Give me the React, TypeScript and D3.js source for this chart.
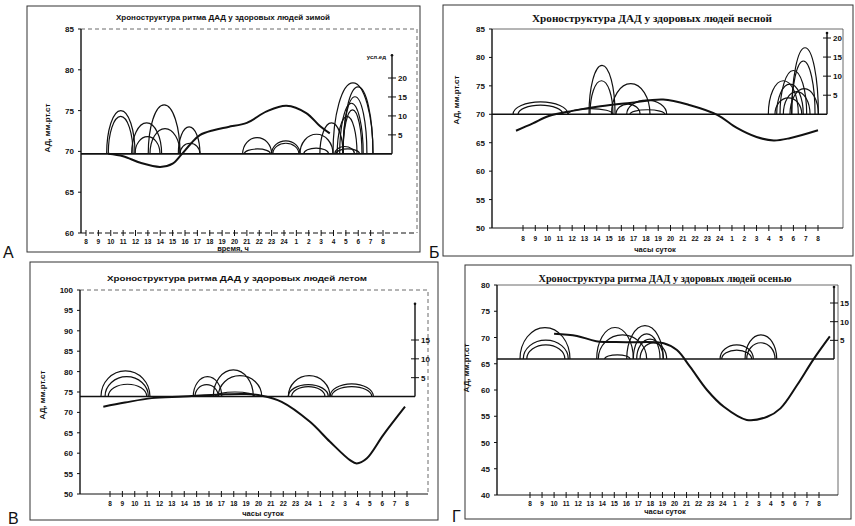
import React from "react";
import * as d3 from "d3";

// ---------- shared axis data ----------
const HOUR_TICKS = [8, 9, 10, 11, 12, 13, 14, 15, 16, 17, 18, 19, 20, 21, 22, 23, 24, 25, 26, 27, 28, 29, 30, 31, 32];
const HOUR_LABELS = ["8", "9", "10", "11", "12", "13", "14", "15", "16", "17", "18", "19", "20", "21", "22", "23", "24", "1", "2", "3", "4", "5", "6", "7", "8"];

// ---------- Panel А (зима) ----------
const A_TITLE = "Хроноструктура ритма ДАД у здоровых людей зимой";
const A_Y_TICKS = [60, 65, 70, 75, 80, 85];
const A_R_TICKS = [5, 10, 15, 20];
const A_BASE = 69.7;
const A_MEAN_H = [9.8, 11.0, 12.4, 14.0, 15.0, 15.7, 16.5, 17.2, 18.3, 19.5, 21.0, 22.6, 24.2, 25.8, 26.9, 27.7];
const A_MEAN_V = [69.7, 69.4, 68.6, 68.1, 68.5, 69.6, 71.0, 72.0, 72.6, 73.0, 73.5, 74.9, 75.6, 74.7, 73.1, 72.2];
const A_ARC_START = [9.67, 9.8, 11.69, 11.96, 13.03, 13.17, 15.46, 15.6, 20.66, 20.8, 23.0, 23.1, 25.29, 25.6, 26.9, 27.96, 28.77, 28.77, 28.5, 28.77, 28.3, 28.2, 28.1];
const A_ARC_END = [11.96, 11.8, 14.11, 13.98, 15.6, 15.6, 17.21, 17.21, 23.0, 22.9, 25.29, 25.2, 27.96, 27.6, 28.77, 31.19, 31.19, 30.7, 30.4, 30.3, 29.9, 30.1, 29.7];
const A_ARC_PEAK = [75.0, 74.3, 73.5, 71.8, 75.7, 72.8, 73.0, 71.0, 71.7, 70.3, 71.3, 71.0, 72.1, 70.4, 73.5, 78.4, 77.9, 76.7, 75.9, 75.1, 74.3, 70.3, 70.6];

// ---------- Panel Б (весна) ----------
const B_TITLE = "Хроноструктура ДАД у здоровых людей весной";
const B_Y_TICKS = [50, 55, 60, 65, 70, 75, 80, 85];
const B_R_TICKS = [5, 10, 15, 20];
const B_BASE = 70;
const B_MEAN_H = [7.43, 8.8, 10.1, 12.0, 14.3, 16.7, 19.4, 21.6, 23.8, 25.4, 27.0, 28.4, 29.7, 32.0];
const B_MEAN_V = [67.1, 68.4, 69.7, 70.6, 71.4, 72.0, 72.6, 71.6, 69.9, 67.6, 66.0, 65.4, 65.8, 67.2];
const B_ARC_START = [7.19, 7.6, 11.66, 13.37, 13.45, 15.2, 15.57, 16.44, 16.7, 29.86, 29.86, 28.91, 27.96, 28.64, 29.18, 28.5, 29.72];
const B_ARC_END = [11.66, 11.25, 15.32, 15.49, 15.32, 18.33, 17.52, 19.69, 19.55, 32.03, 31.76, 31.08, 30.4, 30.8, 31.35, 30.68, 32.03];
const B_ARC_PEAK = [72.2, 71.6, 71.0, 78.6, 75.9, 75.4, 71.8, 72.5, 70.8, 81.7, 79.4, 77.7, 75.9, 75.3, 74.0, 72.9, 74.5];

// ---------- Panel В (лето) ----------
const V_TITLE = "Хроноструктура ритма ДАД у здоровых людей летом";
const V_Y_TICKS = [50, 55, 60, 65, 70, 75, 80, 85, 90, 95, 100];
const V_R_TICKS = [5, 10, 15];
const V_BASE = 73.9;
const V_MEAN_H = [7.46, 9.2, 11.37, 13.9, 17.0, 19.0, 20.26, 21.87, 24.16, 25.78, 27.39, 27.94, 28.74, 30.09, 31.84];
const V_MEAN_V = [71.4, 72.4, 73.5, 73.9, 74.4, 74.5, 74.1, 72.6, 67.7, 62.8, 58.3, 57.5, 58.7, 64.5, 71.4];
const V_ARC_START = [7.27, 7.6, 7.86, 14.73, 14.87, 16.35, 16.75, 16.5, 22.41, 22.41, 22.68, 25.78, 25.91];
const V_ARC_END = [11.23, 11.1, 10.97, 17.03, 16.75, 19.58, 20.26, 19.7, 25.78, 25.64, 25.37, 29.28, 29.15];
const V_ARC_PEAK = [80.2, 78.75, 76.9, 78.75, 76.8, 80.4, 79.0, 75.0, 79.0, 76.8, 76.3, 77.0, 76.3];

// ---------- Panel Г (осень) ----------
const G_TITLE = "Хроноструктура ритма ДАД у здоровых людей осенью";
const G_Y_TICKS = [40, 45, 50, 55, 60, 65, 70, 75, 80];
const G_R_TICKS = [5, 10, 15];
const G_BASE = 65.9;
const G_MEAN_H = [10.0, 11.9, 13.5, 16.0, 19.1, 20.2, 21.3, 22.7, 24.1, 26.0, 27.7, 28.8, 30.2, 31.5, 32.9];
const G_MEAN_V = [70.7, 70.3, 69.3, 69.1, 68.9, 67.6, 64.4, 60.0, 56.8, 54.3, 54.9, 56.5, 61.0, 65.7, 70.2];
const G_ARC_START = [7.17, 7.44, 7.73, 13.54, 13.67, 16.03, 16.58, 16.86, 17.14, 14.2, 23.78, 23.92, 25.86, 26.0];
const G_ARC_END = [11.32, 11.18, 10.9, 16.58, 17.69, 19.07, 18.8, 19.07, 19.35, 16.3, 26.55, 26.41, 28.49, 28.35];
const G_ARC_PEAK = [71.9, 69.5, 68.6, 71.9, 70.5, 72.25, 70.7, 69.7, 69.0, 66.7, 68.6, 67.6, 70.5, 69.0];

type Cfg = {
  letter: string; letterX: number; letterY: number;
  frame: [number, number, number, number];
  title: string; titleX: number; titleY: number; titleW: number; titleSerif: boolean;
  yTicks: number[]; yDomain: [number, number]; yRange: [number, number];
  axisX: number; plotRight: number; plotDashed: boolean; xAxisDashed: boolean;
  x8: number; x32: number;
  base: number;
  rTicks: number[]; rRef: number; rRefY: number; rTop: number; rAxisX: number; rUnit?: string;
  meanH: number[]; meanV: number[];
  arcS: number[]; arcE: number[]; arcP: number[];
  xTitle: string; xTitleX: number; xTitleY: number; xLabelY: number;
  yTitleX: number; yTitleY: number;
};

const SANS = "'Liberation Sans', Arial, sans-serif";
const SERIF = "'Liberation Serif', 'Times New Roman', serif";

function Panel({ c }: { c: Cfg }) {
  const x = d3.scaleLinear().domain([8, 32]).range([c.x8, c.x32]);
  const y = d3.scaleLinear().domain(c.yDomain).range(c.yRange);
  const baseY = y(c.base);
  const r = d3.scaleLinear().domain([0, c.rRef]).range([baseY, c.rRefY]);
  const yBottom = c.yRange[0];
  const yTop = c.yRange[1];
  const mean = d3.line<number>()
    .x((_, i) => x(c.meanH[i]))
    .y((v) => y(v))
    .curve(d3.curveCatmullRom.alpha(0.5));
  const [fx0, fy0, fx1, fy1] = c.frame;
  const ink = "#111";
  return (
    <g>
      <rect x={fx0} y={fy0} width={fx1 - fx0} height={fy1 - fy0} fill="none" stroke="#333" strokeWidth={1} />
      <text x={c.letterX} y={c.letterY} fontFamily={SANS} fontSize={16} fill={ink}>{c.letter}</text>
      <text x={c.titleX} y={c.titleY} textAnchor="middle" fontFamily={c.titleSerif ? SERIF : SANS}
        fontWeight="bold" fontSize={c.titleSerif ? 10 : 8} textLength={c.titleW} lengthAdjust="spacingAndGlyphs" fill={ink}>{c.title}</text>
      {/* plot area border (top + right) */}
      <path d={`M${c.axisX},${yTop}H${c.plotRight}V${yBottom}`} fill="none" stroke="#444" strokeWidth={0.8}
        strokeDasharray={c.plotDashed ? "4,3" : undefined} />
      {/* y axis */}
      <line x1={c.axisX} x2={c.axisX} y1={yTop} y2={yBottom} stroke={ink} strokeWidth={1.4} />
      {c.yTicks.map((t) => (
        <g key={t}>
          <line x1={c.axisX - 3} x2={c.axisX} y1={y(t)} y2={y(t)} stroke={ink} strokeWidth={1} />
          <text x={c.axisX - 7} y={y(t) + 3} textAnchor="end" fontFamily={SANS} fontWeight="bold" fontSize={8} fill={ink}>{t}</text>
        </g>
      ))}
      <text transform={`translate(${c.yTitleX},${c.yTitleY}) rotate(-90)`} textAnchor="middle" fontFamily={SANS}
        fontWeight="bold" fontSize={8} fill={ink}>АД, мм.рт.ст</text>
      {/* x axis */}
      <line x1={c.axisX} x2={c.plotRight} y1={yBottom} y2={yBottom} stroke={ink} strokeWidth={1}
        strokeDasharray={c.xAxisDashed ? "5,3" : undefined} />
      {HOUR_TICKS.map((h, i) => (
        <g key={h}>
          <line x1={x(h)} x2={x(h)} y1={yBottom - 3} y2={yBottom + 3} stroke={ink} strokeWidth={1} />
          <text x={x(h)} y={c.xLabelY} textAnchor="middle" fontFamily={SANS} fontWeight="bold" fontSize={6.5} fill={ink}>{HOUR_LABELS[i]}</text>
        </g>
      ))}
      <text x={c.xTitleX} y={c.xTitleY} textAnchor="middle" fontFamily={SANS} fontWeight="bold" fontSize={7.5} fill={ink}>{c.xTitle}</text>
      {/* right axis */}
      <line x1={c.rAxisX} x2={c.rAxisX} y1={baseY} y2={r(c.rTop)} stroke={ink} strokeWidth={1.4} />
      <circle cx={c.rAxisX} cy={r(c.rTop)} r={1.3} fill={ink} />
      {c.rTicks.map((t) => (
        <g key={t}>
          <line x1={c.rAxisX - 4} x2={c.rAxisX + 4} y1={r(t)} y2={r(t)} stroke={ink} strokeWidth={1} />
          <text x={c.rAxisX + 6} y={r(t) + 3} fontFamily={SANS} fontWeight="bold" fontSize={8} fill={ink}>{t}</text>
        </g>
      ))}
      {c.rUnit && (
        <text x={c.rAxisX - 6} y={r(c.rTop) + 4} textAnchor="end" fontFamily={SANS} fontWeight="bold" fontSize={6} fill={ink}>{c.rUnit}</text>
      )}
      {/* baseline (MESOR) */}
      <line x1={c.axisX} x2={c.rAxisX} y1={baseY} y2={baseY} stroke={ink} strokeWidth={1.6} />
      {/* arcs */}
      {c.arcS.map((s, i) => {
        const x0 = x(s);
        const x1 = x(c.arcE[i]);
        const rx = (x1 - x0) / 2;
        const ry = baseY - y(c.arcP[i]);
        return (
          <path key={i} d={`M${x0},${baseY}A${rx},${ry} 0 0 1 ${x1},${baseY}`} fill="none" stroke={ink} strokeWidth={1.2} />
        );
      })}
      {/* mean curve */}
      <path d={mean(c.meanV) || ""} fill="none" stroke={ink} strokeWidth={2} />
    </g>
  );
}

const PANELS: Cfg[] = [
  {
    letter: "А", letterX: 3, letterY: 258, frame: [27, 6, 420, 252],
    title: A_TITLE, titleX: 223, titleY: 20, titleW: 214, titleSerif: false,
    yTicks: A_Y_TICKS, yDomain: [60, 85], yRange: [233, 29], axisX: 81, plotRight: 417, plotDashed: true, xAxisDashed: true,
    x8: 86, x32: 383, base: A_BASE,
    rTicks: A_R_TICKS, rRef: 20, rRefY: 78, rTop: 26, rAxisX: 392, rUnit: "усл.ед",
    meanH: A_MEAN_H, meanV: A_MEAN_V, arcS: A_ARC_START, arcE: A_ARC_END, arcP: A_ARC_PEAK,
    xTitle: "время, ч", xTitleX: 233, xTitleY: 251, xLabelY: 244, yTitleX: 50, yTitleY: 128,
  },
  {
    letter: "Б", letterX: 429, letterY: 258, frame: [443, 5, 853, 256],
    title: B_TITLE, titleX: 652, titleY: 22, titleW: 240, titleSerif: true,
    yTicks: B_Y_TICKS, yDomain: [50, 85], yRange: [228, 29], axisX: 492, plotRight: 843, plotDashed: false, xAxisDashed: false,
    x8: 523, x32: 818, base: B_BASE,
    rTicks: B_R_TICKS, rRef: 20, rRefY: 38, rTop: 21.3, rAxisX: 827,
    meanH: B_MEAN_H, meanV: B_MEAN_V, arcS: B_ARC_START, arcE: B_ARC_END, arcP: B_ARC_PEAK,
    xTitle: "часы суток", xTitleX: 655, xTitleY: 252, xLabelY: 241, yTitleX: 459, yTitleY: 100,
  },
  {
    letter: "В", letterX: 8, letterY: 524, frame: [30, 262, 438, 520],
    title: V_TITLE, titleX: 237, titleY: 281, titleW: 260, titleSerif: false,
    yTicks: V_Y_TICKS, yDomain: [50, 100], yRange: [494, 290], axisX: 80, plotRight: 428, plotDashed: true, xAxisDashed: false,
    x8: 110, x32: 407, base: V_BASE,
    rTicks: V_R_TICKS, rRef: 15, rRefY: 340, rTop: 24.6, rAxisX: 415,
    meanH: V_MEAN_H, meanV: V_MEAN_V, arcS: V_ARC_START, arcE: V_ARC_END, arcP: V_ARC_PEAK,
    xTitle: "часы суток", xTitleX: 263, xTitleY: 516, xLabelY: 506, yTitleX: 45, yTitleY: 395,
  },
  {
    letter: "Г", letterX: 452, letterY: 522, frame: [465, 265, 851, 519],
    title: G_TITLE, titleX: 665, titleY: 282, titleW: 253, titleSerif: true,
    yTicks: G_Y_TICKS, yDomain: [40, 80], yRange: [495, 285], axisX: 497, plotRight: 838, plotDashed: false, xAxisDashed: false,
    x8: 530, x32: 819, base: G_BASE,
    rTicks: G_R_TICKS, rRef: 15, rRefY: 303, rTop: 19.3, rAxisX: 834,
    meanH: G_MEAN_H, meanV: G_MEAN_V, arcS: G_ARC_START, arcE: G_ARC_END, arcP: G_ARC_PEAK,
    xTitle: "часы суток", xTitleX: 665, xTitleY: 514, xLabelY: 506, yTitleX: 469, yTitleY: 368,
  },
];

export default function App() {
  return (
    <svg width={855} height={526} viewBox="0 0 855 526"
      style={{ position: "absolute", left: 0, top: 0, background: "#fff", display: "block" }}>
      <rect x={0} y={0} width={855} height={526} fill="#fff" />
      {PANELS.map((p) => <Panel key={p.letter} c={p} />)}
    </svg>
  );
}
